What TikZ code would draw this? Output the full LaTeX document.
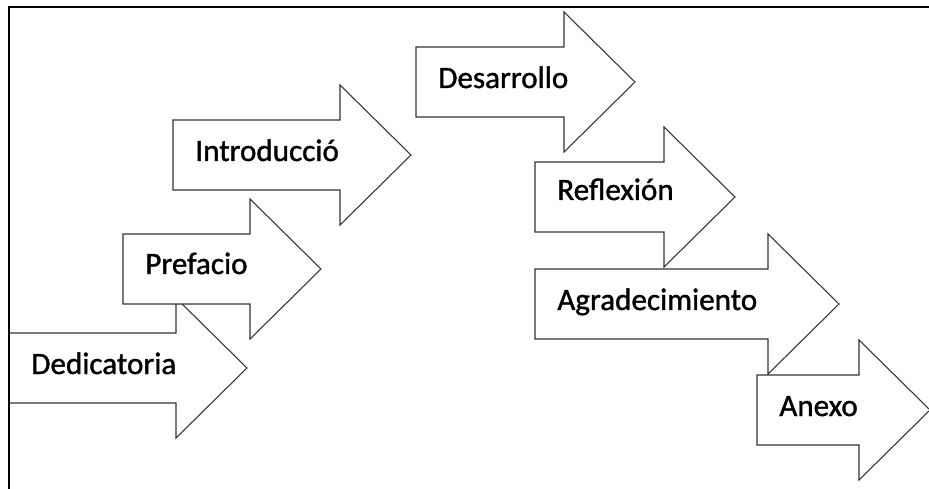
\documentclass[tikz,border=0pt]{standalone}
\usepackage{fontspec}
\setmainfont{Carlito}
\newfontfamily\fuente[FakeBold=1.2]{Carlito}

\tikzset{
  flecha/.style={draw=black!80, fill=white, line width=0.6pt, line join=miter},
  etiqueta/.style={anchor=base west, inner sep=0pt, font=\fuente\fontsize{17.7}{21}\selectfont},
  marco/.style={draw=black, line width=1.1pt}
}

% block arrow: name, x, y (axis), body length, text, baseline shift
\newcommand{\flecha}[6]{%
  \draw[flecha] (#2,#3-35) -- ++(#4,0) -- ++(0,-35) -- ++(71,70) -- ++(-71,70)
    -- ++(0,-35) -- ++(-#4,0) -- cycle;
  \node[etiqueta] (#1) at (#2+22,#3+#6) {#5};
}

\begin{document}
\begin{tikzpicture}[x=0.02cm, y=-0.02cm]
    \useasboundingbox (0,0) rectangle (929,489);

    % draw arrows, left side
    \flecha{dedicatoria}{9}{368}{167}{Dedicatoria}{6}
    \flecha{prefacio}{123}{269}{127}{Prefacio}{5}
    \flecha{introduccio}{173}{155}{167}{Introducció}{6}

    % draw arrows, right side
    \flecha{desarrollo}{416}{82}{148}{Desarrollo}{6}
    \flecha{reflexion}{535}{197}{129}{Reflexión}{3}
    \flecha{agradecimiento}{535}{304}{233}{Agradecimiento}{6}
    \flecha{anexo}{757}{410}{102}{Anexo}{6}

    % draw frame
    \draw[marco] (9,489) -- (9,7) -- (929,7);
\end{tikzpicture}
\end{document}
